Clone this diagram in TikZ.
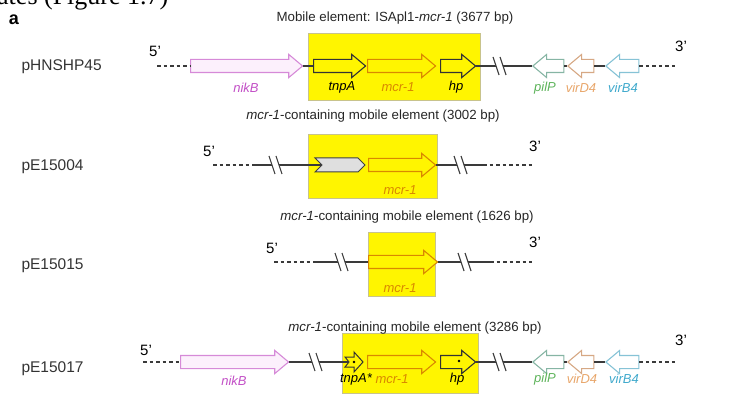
\documentclass[tikz,border=0pt]{standalone}
\usepackage{fontspec}
\setmainfont{Liberation Sans}
\newfontfamily\capfont{Liberation Serif}
\usetikzlibrary{shapes.arrows,shapes.symbols}

\definecolor{cBox}{HTML}{FFF500}
\definecolor{cBoxLine}{HTML}{C8C38C}
\definecolor{cMcr}{HTML}{D98800}
\definecolor{cNik}{HTML}{D68AD8}
\definecolor{cNikFill}{HTML}{FCF0FC}
\definecolor{cNikTxt}{HTML}{C24FC6}
\definecolor{cPil}{HTML}{86B5A4}
\definecolor{cPilTxt}{HTML}{5DB35A}
\definecolor{cVirD}{HTML}{D6A884}
\definecolor{cVirDTxt}{HTML}{E8A66A}
\definecolor{cVirB}{HTML}{86C3D6}
\definecolor{cVirBTxt}{HTML}{3FA9CC}
\definecolor{cLine}{HTML}{3A3A3A}

\tikzset{
  bb/.style={draw=cLine, line width=1.2pt},
  dashln/.style={draw=cLine, line width=1.2pt, dash pattern=on 3.5pt off 3pt},
  gene/.style={single arrow, draw, line width=1.1pt, inner xsep=0pt, inner ysep=6pt,
    single arrow head extend=5pt, single arrow tip angle=80, minimum height=#1},
  rev/.style={shape border rotate=180},
  isgene/.style={draw=black!80, fill=cBox},
  mcrgene/.style={draw=cMcr, fill=cBox},
  mebox/.style={draw=cBoxLine, fill=cBox, line width=0.6pt, inner sep=0pt},
  plasmid/.style={font=\fontsize{15.5}{18}\selectfont, text=black!80, anchor=west},
  elname/.style={font=\fontsize{13.3}{16}\selectfont, text=black!85},
  glbl/.style={font=\fontsize{13}{15}\selectfont\itshape},
  endlbl/.style={font=\fontsize{15}{18}\selectfont},
  % break in the backbone
  brk/.pic={
    \fill[white] (-4.7,-2) -- (2.3,-2) -- (3.7,2) -- (-3.3,2) -- cycle;
    \draw[draw=cLine, line width=1.1pt] (-7,-9) -- (-1,9) (0,-9) -- (6,9);
  },
  % truncated tnpA with notched tail
  tnparrow/.pic={
    \draw[line width=1pt, draw=black!80, fill=cBox]
      (-9,-5) -- (0,-5) -- (0,-10) -- (9,0) -- (0,10) -- (0,5) -- (-9,5) -- (-5,0) -- cycle;
    \fill (0,0) circle (1.3);
    \coordinate (-tail) at (-5,0);
    \coordinate (-tip) at (9,0);
  }
}

\begin{document}
\begin{tikzpicture}[x=1pt,y=-1pt]
\useasboundingbox (0,0) rectangle (734,398);

% caption line cut at the top, panel letter
\node[anchor=base west, inner sep=0pt, font=\capfont\fontsize{26}{28}\selectfont] (capline) at (-3,5) {ates (Figure 1.7)};
\node[font=\bfseries\fontsize{18}{20}\selectfont] (panel) at (14,20) {a};

% mobile element boxes
\node[mebox, minimum width=172pt, minimum height=67pt] (boxa) at (394,66.5) {};
\node[mebox, minimum width=129pt, minimum height=64pt] (boxb) at (372.5,166) {};
\node[mebox, minimum width=67pt, minimum height=64pt] (boxc) at (401.5,264) {};
\node[mebox, minimum width=136pt, minimum height=60pt] (boxd) at (410,363) {};

%% pHNSHP45
\node[plasmid] (pa) at (18,67) {pHNSHP45};
\node[elname] (ta) at (395,18) {Mobile element: ISApl1-\textit{mcr-1} (3677 bp)};
\node[endlbl] (fivea) at (155,51) {5'};
\node[endlbl] (threea) at (681,46) {3'};
\coordinate (sa) at (157,66);
\coordinate (ea) at (677,66);
\node[gene=112, anchor=tail, draw=cNik, fill=cNikFill] (nikBa) at (190,66) {};
\node[gene=52, anchor=tail, isgene] (tnpAa) at (313,66) {};
\node[gene=68, anchor=tail, mcrgene] (mcra) at (367,66) {};
\node[gene=35, anchor=tail, isgene] (hpa) at (440,66) {};
\node[gene=31, rev, anchor=tip, draw=cPil, fill=white] (pilPa) at (532,66) {};
\node[gene=26, rev, anchor=tip, draw=cVirD, fill=white] (virDa) at (567,66) {};
\node[gene=33, rev, anchor=tip, draw=cVirB, fill=white] (virBa) at (605,66) {};
\node[glbl, text=cNikTxt] (lnikBa) at (246,88) {nikB};
\node[glbl] (ltnpAa) at (342,87) {tnpA};
\node[glbl, text=cMcr] (lmcra) at (398,87) {mcr-1};
\node[glbl] (lhpa) at (456,87) {hp};
\node[glbl, text=cPilTxt] (lpilPa) at (545,88) {pilP};
\node[glbl, text=cVirDTxt] (lvirDa) at (581,88) {virD4};
\node[glbl, text=cVirBTxt] (lvirBa) at (623,88) {virB4};
\draw[dashln] (sa) -- (nikBa.tail);
\draw[dashln] (virBa.tail) -- (ea);
\foreach \a/\b in {nikBa.tip/tnpAa.tail, hpa.tip/pilPa.tip, pilPa.tail/virDa.tip, virDa.tail/virBa.tip}
  \draw[bb] (\a) -- (\b);
\pic at (500,66) {brk};

%% pE15004
\node[plasmid] (pb) at (18,167) {pE15004};
\node[elname] (tb) at (373,116) {\textit{mcr-1}-containing mobile element (3002 bp)};
\node[endlbl] (fiveb) at (209,151) {5'};
\node[endlbl] (threeb) at (535,146) {3'};
\coordinate (sb) at (213,165);
\coordinate (kb) at (253,165);
\coordinate (lb) at (483,165);
\coordinate (eb) at (532,165);
\node[signal, signal to=east, signal from=west, draw=black!75, fill=gray!25,
  line width=1pt, minimum width=50pt, minimum height=14pt, inner sep=0pt] (chevb) at (340,165) {};
\node[gene=67, anchor=tail, mcrgene] (mcrb) at (368,165) {};
\node[glbl, text=cMcr] (lmcrb) at (400,190) {mcr-1};
\draw[dashln] (sb) -- (kb);
\draw[bb] (kb) -- (chevb.west);
\draw[bb] (mcrb.tip) -- (lb);
\draw[dashln] (lb) -- (eb);
\pic at (276,165) {brk};
\pic at (461,165) {brk};

%% pE15015
\node[plasmid] (pc) at (18,266) {pE15015};
\node[elname] (tc) at (407,217) {\textit{mcr-1}-containing mobile element (1626 bp)};
\node[endlbl] (fivec) at (272,248) {5'};
\node[endlbl] (threec) at (535,242) {3'};
\coordinate (sc) at (274,262);
\coordinate (kc) at (316,262);
\coordinate (lc) at (490,262);
\coordinate (ec) at (532,262);
\node[gene=69, anchor=tail, mcrgene] (mcrc) at (368,262) {};
\node[glbl, text=cMcr] (lmcrc) at (400,288) {mcr-1};
\draw[dashln] (sc) -- (kc);
\draw[bb] (kc) -- (mcrc.tail);
\draw[bb] (mcrc.tip) -- (lc);
\draw[dashln] (lc) -- (ec);
\pic at (342,262) {brk};
\pic at (465,262) {brk};

%% pE15017
\node[plasmid] (pd) at (18,369) {pE15017};
\node[elname] (td) at (415,328) {\textit{mcr-1}-containing mobile element (3286 bp)};
\node[endlbl] (fived) at (146,350) {5'};
\node[endlbl] (threed) at (681,340) {3'};
\coordinate (sd) at (143,362);
\coordinate (ed) at (677,362);
\node[gene=108, anchor=tail, draw=cNik, fill=cNikFill] (nikBd) at (180,362) {};
\pic (tnpAd) at (354,362) {tnparrow};
\node[gene=68, anchor=tail, mcrgene] (mcrd) at (367,362) {};
\node[gene=35, anchor=tail, isgene] (hpd) at (440,362) {};
\fill[black] (459,361) circle (1.4);
\node[gene=31, rev, anchor=tip, draw=cPil, fill=white] (pilPd) at (532,362) {};
\node[gene=26, rev, anchor=tip, draw=cVirD, fill=white] (virDd) at (567,362) {};
\node[gene=33, rev, anchor=tip, draw=cVirB, fill=white] (virBd) at (605,362) {};
\node[glbl, text=cNikTxt] (lnikBd) at (234,381) {nikB};
\node[glbl] (ltnpAd) at (356,379) {tnpA*};
\node[glbl, text=cMcr] (lmcrd) at (392,379) {mcr-1};
\node[glbl] (lhpd) at (457,379) {hp};
\node[glbl, text=cPilTxt] (lpilPd) at (545,379) {pilP};
\node[glbl, text=cVirDTxt] (lvirDd) at (582,379) {virD4};
\node[glbl, text=cVirBTxt] (lvirBd) at (624,379) {virB4};
\draw[dashln] (sd) -- (nikBd.tail);
\draw[dashln] (virBd.tail) -- (ed);
\foreach \a/\b in {nikBd.tip/tnpAd-tail, hpd.tip/pilPd.tip, pilPd.tail/virDd.tip, virDd.tail/virBd.tip}
  \draw[bb] (\a) -- (\b);
\pic at (316,362) {brk};
\pic at (500,362) {brk};
\end{tikzpicture}
\end{document}
